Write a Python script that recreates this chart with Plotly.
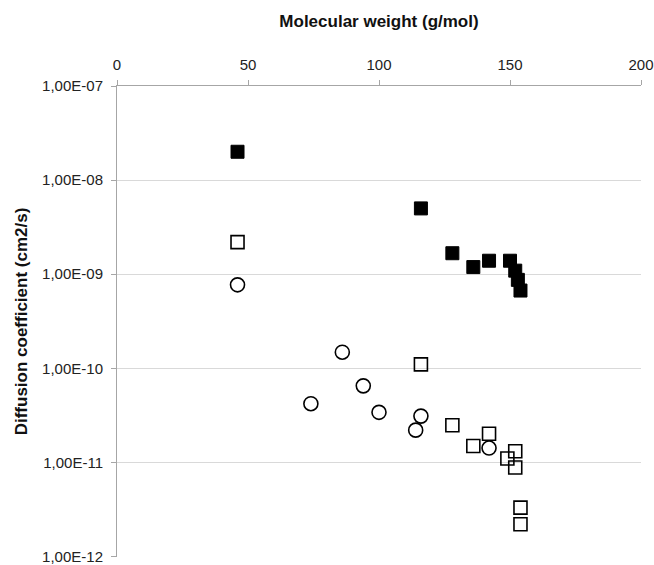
import plotly.graph_objects as go

# Filled squares
mw_filled = [46, 116, 128, 136, 142, 150, 152, 153, 154]
d_filled = [2.0e-8, 5.0e-9, 1.67e-9, 1.19e-9, 1.39e-9, 1.39e-9, 1.09e-9, 8.7e-10, 6.7e-10]

# Open squares
mw_open = [46, 116, 128, 136, 142, 149, 152, 152, 154, 154]
d_open = [2.19e-9, 1.1e-10, 2.48e-11, 1.49e-11, 2.01e-11, 1.1e-11, 1.31e-11, 8.8e-12, 3.3e-12, 2.2e-12]

# Open circles
mw_circ = [46, 74, 86, 94, 100, 114, 116, 142]
d_circ = [7.7e-10, 4.2e-11, 1.48e-10, 6.5e-11, 3.4e-11, 2.2e-11, 3.1e-11, 1.42e-11]

y_tickvals = [1e-7, 1e-8, 1e-9, 1e-10, 1e-11, 1e-12]
y_ticktext = ["1,00E-07", "1,00E-08", "1,00E-09", "1,00E-10", "1,00E-11", "1,00E-12"]
x_tickvals = [0, 50, 100, 150, 200]

fig = go.Figure()
fig.add_trace(go.Scatter(x=mw_filled, y=d_filled, mode="markers",
                         marker=dict(symbol="square", size=13, color="black",
                                     line=dict(color="black", width=1))))
fig.add_trace(go.Scatter(x=mw_open, y=d_open, mode="markers",
                         marker=dict(symbol="square-open", size=13, color="black",
                                     line=dict(color="black", width=1.6))))
fig.add_trace(go.Scatter(x=mw_circ, y=d_circ, mode="markers",
                         marker=dict(symbol="circle-open", size=14, color="black",
                                     line=dict(color="black", width=1.6))))

fig.update_layout(
    width=654, height=565,
    margin=dict(l=117, r=13, t=86, b=8),
    paper_bgcolor="white", plot_bgcolor="white",
    showlegend=False,
    font=dict(family="Liberation Sans, Arial, sans-serif", size=15, color="#222"),
    xaxis=dict(side="top", range=[0, 200], tickvals=x_tickvals,
               showgrid=False, zeroline=False, automargin=False,
               showline=True, linecolor="#a6a6a6", linewidth=1,
               ticks="outside", ticklen=5, tickcolor="#a6a6a6",
               ticklabelstandoff=4, ticklabeloverflow="allow",
               tickfont=dict(size=15, color="#222"),
               title=dict(text="<b>Molecular weight (g/mol)</b>", font=dict(size=17, color="#111"),
                          standoff=24)),
    yaxis=dict(type="log", range=[-12.006, -7], tickvals=y_tickvals, ticktext=y_ticktext,
               showgrid=True, gridcolor="#d9d9d9", gridwidth=1, zeroline=False, automargin=False,
               showline=True, linecolor="#a6a6a6", linewidth=1,
               ticks="outside", ticklen=5, tickcolor="#a6a6a6",
               ticklabelstandoff=5, ticklabeloverflow="allow",
               tickfont=dict(size=15, color="#222"),
               title=dict(text="<b>Diffusion coefficient (cm2/s)</b>", font=dict(size=17, color="#111"),
                          standoff=10)),
)

fig.write_html("out.html")
